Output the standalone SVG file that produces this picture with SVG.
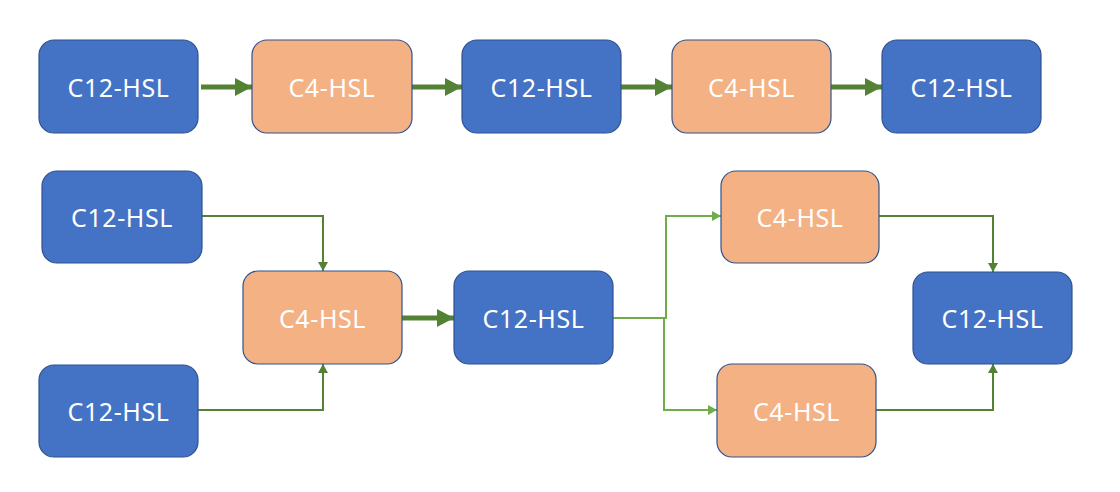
<svg xmlns="http://www.w3.org/2000/svg" width="1120" height="492" viewBox="0 0 1120 492">
<defs>
<style>
.blue{fill:#4472C4;stroke:#2F528F;stroke-width:1.2}
.orange{fill:#F4B183;stroke:#2F528F;stroke-width:1.2}
.t{fill:#FFFFFF;font-family:"Noto Sans","DejaVu Sans",sans-serif;font-size:25px;letter-spacing:0.6px;text-anchor:middle;dominant-baseline:central}
.thick{stroke:#548235;stroke-width:5;fill:none}
.dk{stroke:#548235;stroke-width:2;fill:none}
.lt{stroke:#70AD47;stroke-width:2;fill:none}
</style>
<marker id="big" markerUnits="userSpaceOnUse" markerWidth="18" markerHeight="18" refX="17" refY="9" orient="auto" viewBox="0 0 18 18"><path d="M0,0 L17,9 L0,18 Z" fill="#548235"/></marker>
<marker id="smd" markerUnits="userSpaceOnUse" markerWidth="10" markerHeight="10" refX="9" refY="5" orient="auto" viewBox="0 0 10 10"><path d="M0,0 L9,5 L0,10 Z" fill="#548235"/></marker>
<marker id="sml" markerUnits="userSpaceOnUse" markerWidth="10" markerHeight="10" refX="9" refY="5" orient="auto" viewBox="0 0 10 10"><path d="M0,0 L9,5 L0,10 Z" fill="#70AD47"/></marker>
</defs>
<rect width="1120" height="492" fill="#FFFFFF"/>
<g id="connectors">
<line class="thick" x1="201" y1="87" x2="252" y2="87" marker-end="url(#big)"/>
<line class="thick" x1="412" y1="87" x2="462" y2="87" marker-end="url(#big)"/>
<line class="thick" x1="621" y1="87" x2="672" y2="87" marker-end="url(#big)"/>
<line class="thick" x1="831" y1="87" x2="882" y2="87" marker-end="url(#big)"/>
<polyline class="dk" points="202,216 323,216 323,271" marker-end="url(#smd)"/>
<polyline class="dk" points="198,410 323,410 323,364" marker-end="url(#smd)"/>
<line class="thick" x1="402" y1="318" x2="454" y2="318" marker-end="url(#big)"/>
<polyline class="lt" points="613,318 666,318 666,216 721,216" marker-end="url(#sml)"/>
<polyline class="lt" points="613,318 664,318 664,410 717,410" marker-end="url(#sml)"/>
<polyline class="dk" points="879,216 993,216 993,272" marker-end="url(#smd)"/>
<polyline class="dk" points="876,410 993,410 993,364" marker-end="url(#smd)"/>
</g>
<g id="n1"><rect class="blue" x="39" y="40" width="159" height="93" rx="15"/><text class="t" x="118.5" y="87">C12-HSL</text></g>
<g id="n2"><rect class="orange" x="252" y="40" width="160" height="93" rx="15"/><text class="t" x="332" y="87">C4-HSL</text></g>
<g id="n3"><rect class="blue" x="462" y="40" width="159" height="93" rx="15"/><text class="t" x="541.5" y="87">C12-HSL</text></g>
<g id="n4"><rect class="orange" x="672" y="40" width="159" height="93" rx="15"/><text class="t" x="751.5" y="87">C4-HSL</text></g>
<g id="n5"><rect class="blue" x="882" y="40" width="159" height="93" rx="15"/><text class="t" x="961.5" y="87">C12-HSL</text></g>
<g id="n6"><rect class="blue" x="42" y="171" width="160" height="92" rx="15"/><text class="t" x="122" y="217">C12-HSL</text></g>
<g id="n7"><rect class="blue" x="39" y="365" width="159" height="92" rx="15"/><text class="t" x="118.5" y="411">C12-HSL</text></g>
<g id="n8"><rect class="orange" x="243" y="271" width="159" height="93" rx="15"/><text class="t" x="322.5" y="318">C4-HSL</text></g>
<g id="n9"><rect class="blue" x="454" y="271" width="159" height="93" rx="15"/><text class="t" x="533.5" y="318">C12-HSL</text></g>
<g id="n10"><rect class="orange" x="721" y="171" width="158" height="92" rx="15"/><text class="t" x="800" y="217">C4-HSL</text></g>
<g id="n11"><rect class="orange" x="717" y="364" width="159" height="93" rx="15"/><text class="t" x="796.5" y="411">C4-HSL</text></g>
<g id="n12"><rect class="blue" x="913" y="272" width="159" height="92" rx="15"/><text class="t" x="992.5" y="318">C12-HSL</text></g>
</svg>
